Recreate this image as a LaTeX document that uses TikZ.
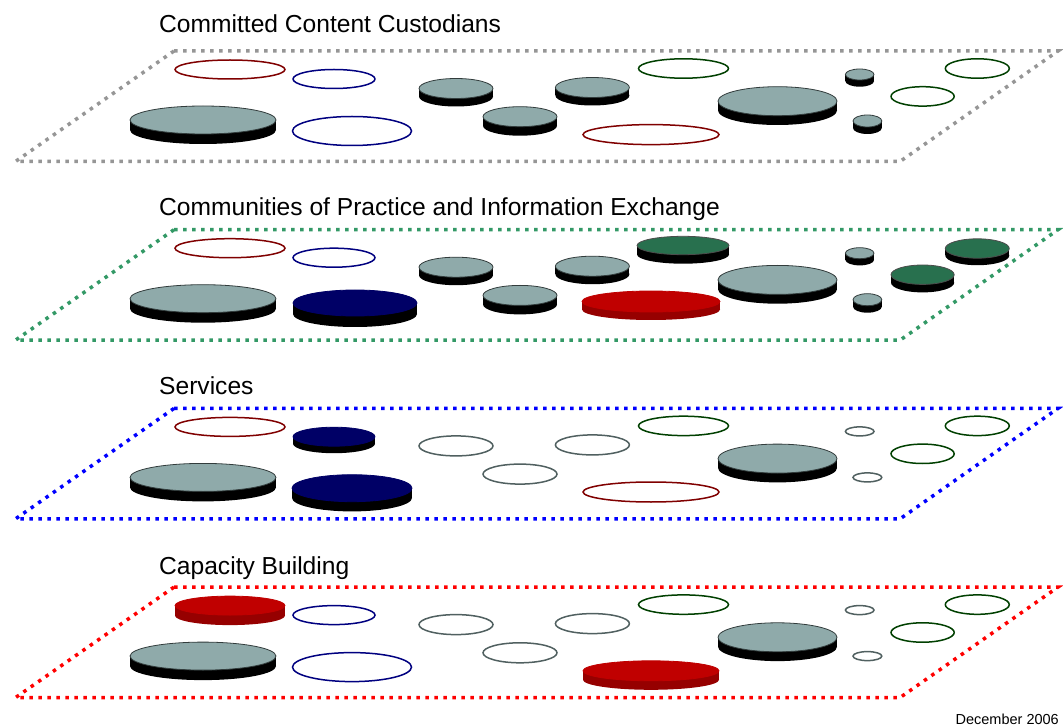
\documentclass[tikz,border=0pt]{standalone}
\usepackage{fontspec}
\setmainfont{Liberation Sans}
\definecolor{grayface}{RGB}{143,170,170}
\definecolor{edgegray}{RGB}{50,60,60}
\definecolor{navyf}{RGB}{0,0,102}
\definecolor{greenf}{RGB}{40,112,78}
\definecolor{redf}{RGB}{192,0,0}
\definecolor{redside}{RGB}{150,0,0}
\definecolor{olred}{RGB}{128,0,0}
\definecolor{olblue}{RGB}{0,0,128}
\definecolor{olgreen}{RGB}{0,64,0}
\definecolor{olgray}{RGB}{80,96,96}
\definecolor{frgray}{RGB}{150,150,150}
\definecolor{frgreen}{RGB}{51,153,102}
\definecolor{frblue}{RGB}{0,0,255}
\definecolor{frred}{RGB}{255,0,0}
% disk: cx cy rx ry thickness face side edge
\newcommand{\cdisk}[8]{%
  \fill[#7] (#1-#3,#2) rectangle (#1+#3,#2+#5);
  \fill[#7] (#1,#2+#5) ellipse [x radius=#3, y radius=#4];
  \filldraw[fill=#6, draw=#8, line width=0.8] (#1,#2) ellipse [x radius=#3, y radius=#4];}
\newcommand{\gdisk}[5]{\cdisk{#1}{#2}{#3}{#4}{#5}{grayface}{black}{edgegray}}
\newcommand{\ringel}[5]{\filldraw[fill=white, draw=#5, line width=1.5] (#1,#2) ellipse [x radius=#3, y radius=#4];}
\begin{document}
\begin{tikzpicture}[x=1pt,y=-1pt,
  frame/.style={line width=3.5pt, dash pattern=on 3.5pt off 5.5pt, line join=miter},
  title/.style={anchor=base west, inner sep=0pt, font=\fontsize{24.6}{29}\selectfont},
  datelabel/.style={anchor=base east, inner sep=0pt, font=\fontsize{14.5}{17}\selectfont}]
\useasboundingbox (0,0) rectangle (1063,727);
\fill[white] (0,0) rectangle (1063,727);

% ---------------- Layer 1
\node[title] (t1) at (159,32.8) {Committed Content Custodians};
\begin{scope}
\draw[frame, draw=frgray] (174,51) -- (1058,51) -- (900,161.5) -- (15.5,161.5) -- cycle;
\ringel{230}{69.5}{55}{9.5}{olred}
\ringel{683.5}{68.5}{45}{9.7}{olgreen}
\ringel{977.3}{68.5}{32}{9.7}{olgreen}
\gdisk{859.7}{74.5}{14.3}{5.5}{6.7}
\ringel{334}{79}{41}{9.5}{olblue}
\gdisk{456}{88.5}{37}{10}{8}
\gdisk{592.4}{87.5}{37}{10}{8}
\ringel{922.6}{96.4}{31.6}{9.7}{olgreen}
\gdisk{777.5}{101.2}{59.5}{14.5}{9.3}
\gdisk{520}{116.7}{37}{10}{9}
\gdisk{203}{120}{73}{14}{10}
\gdisk{867.4}{121}{14.4}{6}{7}
\ringel{352}{131}{59.5}{14.5}{olblue}
\ringel{651}{134.6}{68}{10}{olred}
\end{scope}

% ---------------- Layer 2
\node[title] (t2) at (159,215.1) {Communities of Practice and Information Exchange};
\begin{scope}[yshift=-178.7pt]
\draw[frame, draw=frgreen] (174,51) -- (1058,51) -- (900,161.5) -- (15.5,161.5) -- cycle;
\ringel{230}{69.5}{55}{9.5}{olred}
\cdisk{683}{66.8}{46}{9.2}{9}{greenf}{black}{black!70}
\cdisk{977.3}{69.8}{32}{9.7}{7}{greenf}{black}{black!70}
\gdisk{859.7}{74.5}{14.3}{5.5}{6.7}
\ringel{334}{79}{41}{9.5}{olblue}
\gdisk{456}{88.5}{37}{10}{8}
\gdisk{592.4}{87.5}{37}{10}{8}
\cdisk{922.6}{96}{31.6}{9.7}{8}{greenf}{black}{black!70}
\gdisk{777.5}{101.2}{59.5}{14.5}{9.3}
\gdisk{520}{116.7}{37}{10}{9}
\gdisk{203}{120}{73}{14}{10}
\gdisk{867.4}{121}{14.4}{6}{7}
\cdisk{355}{124.3}{62}{13}{11}{navyf}{black}{navyf}
\cdisk{651}{122.8}{69}{10.5}{8}{redf}{redside}{redf}
\end{scope}

% ---------------- Layer 3
\node[title] (t3) at (159,394.3) {Services};
\begin{scope}[yshift=-357.4pt]
\draw[frame, draw=frblue] (174,51) -- (1058,51) -- (900,161.5) -- (15.5,161.5) -- cycle;
\ringel{230}{69.5}{55}{9.5}{olred}
\ringel{683.5}{68.5}{45}{9.7}{olgreen}
\ringel{977.3}{68.5}{32}{9.7}{olgreen}
\ringel{859.7}{74}{14.3}{4.5}{olgray}
\cdisk{334}{79.3}{41}{9.5}{7}{navyf}{black}{navyf}
\ringel{456}{88.5}{37}{10}{olgray}
\ringel{592.4}{87.5}{37}{10}{olgray}
\ringel{922.6}{96.4}{31.6}{9.7}{olgreen}
\gdisk{777.5}{101.2}{59.5}{14.5}{9.3}
\ringel{520}{116.7}{37}{10}{olgray}
\gdisk{203}{120}{73}{14}{10}
\ringel{867.4}{120}{14.4}{4.5}{olgray}
\cdisk{352}{130.8}{60}{13.5}{9.7}{navyf}{black}{navyf}
\ringel{651}{134.6}{68}{10}{olred}
\end{scope}

% ---------------- Layer 4
\node[title] (t4) at (159,574.1) {Capacity Building};
\begin{scope}[yshift=-536.1pt]
\draw[frame, draw=frred] (174,51) -- (1058,51) -- (900,161.5) -- (15.5,161.5) -- cycle;
\cdisk{230}{69.5}{55}{9.5}{10}{redf}{redside}{redf}
\ringel{683.5}{68.5}{45}{9.7}{olgreen}
\ringel{977.3}{68.5}{32}{9.7}{olgreen}
\ringel{859.7}{74}{14.3}{4.5}{olgray}
\ringel{334}{79}{41}{9.5}{olblue}
\ringel{456}{88.5}{37}{10}{olgray}
\ringel{592.4}{87.5}{37}{10}{olgray}
\ringel{922.6}{96.4}{31.6}{9.7}{olgreen}
\gdisk{777.5}{101.2}{59.5}{14.5}{9.3}
\ringel{520}{116.7}{37}{10}{olgray}
\gdisk{203}{120}{73}{14}{10}
\ringel{867.4}{120}{14.4}{4.5}{olgray}
\ringel{352}{131}{59.5}{14.5}{olblue}
\cdisk{651}{134.7}{68}{10}{9}{redf}{redside}{redf}
\end{scope}

\node[datelabel] (date) at (1059,724) {December 2006};
\end{tikzpicture}
\end{document}
